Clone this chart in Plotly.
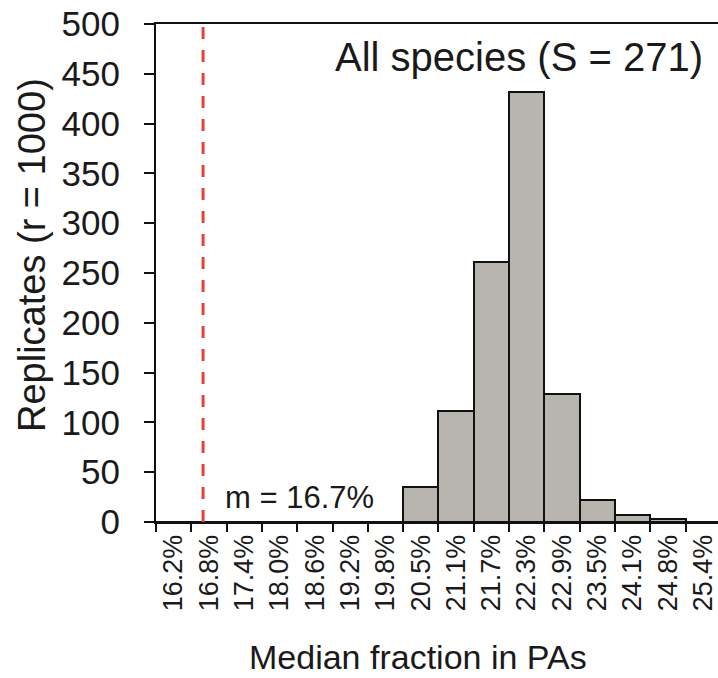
import plotly.graph_objects as go
import numpy as np

# ---- data ----
bin_labels = ["16.2%", "16.8%", "17.4%", "18.0%", "18.6%", "19.2%", "19.8%", "20.5%",
              "21.1%", "21.7%", "22.3%", "22.9%", "23.5%", "24.1%", "24.8%", "25.4%"]
bin_centers = [16.2, 16.8, 17.4, 18.0, 18.6, 19.2, 19.8, 20.5,
               21.1, 21.7, 22.3, 22.9, 23.5, 24.1, 24.8, 25.4]
counts = [0, 0, 0, 0, 0, 0, 0, 35, 111, 261, 432, 129, 22, 7, 3, 0]
m_value = 16.7
y_ticks = [0, 50, 100, 150, 200, 250, 300, 350, 400, 450, 500]

# position of observed median on the bin index scale
m_pos = float(np.interp(m_value, bin_centers, list(range(len(bin_centers)))))

W, H = 718, 678
L, R, T, B = 156, 0, 24, 156
FONT = "Liberation Sans, Arial, sans-serif"
TXT = "#1a1a1a"

fig = go.Figure()
fig.add_trace(go.Bar(
    x=bin_labels, y=counts,
    marker=dict(color="#b8b4ae", line=dict(color="#111111", width=2)),
    width=1.0, showlegend=False, hoverinfo="skip",
))

fig.add_shape(type="line", xref="x", yref="paper", x0=m_pos, x1=m_pos, y0=0, y1=0.995,
              line=dict(color="#e8413a", width=3, dash="12px,11px"))

fig.update_layout(
    width=W, height=H,
    margin=dict(l=L, r=R, t=T, b=B),
    paper_bgcolor="white", plot_bgcolor="white",
    bargap=0,
    font=dict(family=FONT, color=TXT),
    xaxis=dict(
        type="category",
        range=[-0.5, 15.42],
        tickson="boundaries",
        tickangle=-90, tickfont=dict(size=27, color=TXT),
        ticks="outside", ticklen=8, tickwidth=2, tickcolor="#111111",
        showline=True, linecolor="#111111", linewidth=2, mirror=True,
        showgrid=False, zeroline=False, fixedrange=True,
    ),
    yaxis=dict(
        range=[0, 500], tickmode="array", tickvals=y_ticks,
        tickfont=dict(size=35, color=TXT),
        ticks="outside", ticklen=10, tickwidth=2, tickcolor="#111111",
        ticklabelstandoff=17,
        showline=True, linecolor="#111111", linewidth=2,
        showgrid=False, zeroline=False,
    ),
    annotations=[
        dict(text="All species (S = 271)", xref="paper", yref="paper",
             x=(705 - L) / (W - L - R), y=(522 - 57) / 498, xanchor="right", yanchor="middle",
             showarrow=False, font=dict(size=40, color=TXT)),
        dict(text="m = 16.7%", xref="paper", yref="paper",
             x=(223 - L) / (W - L - R), y=(522 - 497) / 498, xanchor="left", yanchor="middle",
             showarrow=False, font=dict(size=31, color=TXT)),
        dict(text="Replicates (r = 1000)", xref="paper", yref="paper",
             x=(32 - L) / (W - L - R), y=(522 - 255) / 498, xanchor="center", yanchor="middle",
             textangle=-90, showarrow=False, font=dict(size=38, color=TXT)),
        dict(text="Median fraction in PAs", xref="paper", yref="paper",
             x=(418 - L) / (W - L - R), y=(522 - 657) / 498, xanchor="center", yanchor="middle",
             showarrow=False, font=dict(size=34, color=TXT)),
    ],
)

fig.write_html("out.html")
